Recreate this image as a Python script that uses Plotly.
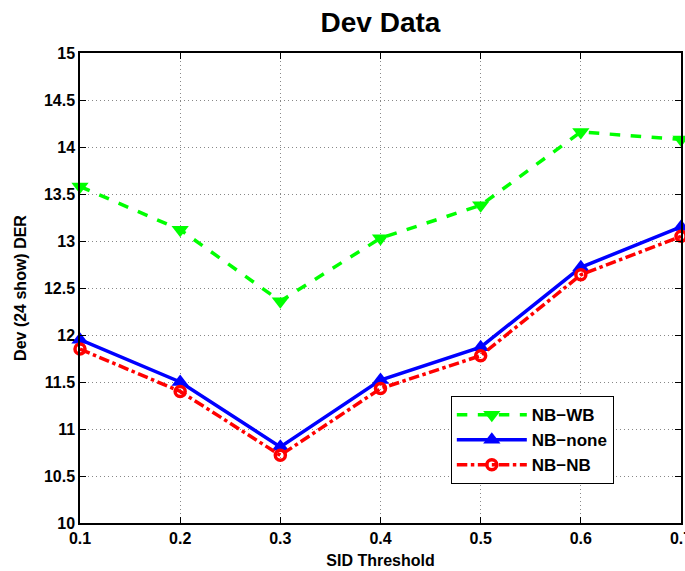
import plotly.graph_objects as go

x_vals = [0.1, 0.2, 0.3, 0.4, 0.5, 0.6, 0.7]
nb_wb = [13.58, 13.12, 12.36, 13.03, 13.38, 14.16, 14.08]
nb_none = [11.95, 11.50, 10.81, 11.52, 11.87, 12.72, 13.15]
nb_nb = [11.85, 11.40, 10.72, 11.43, 11.78, 12.64, 13.05]

x_ticks = [0.1, 0.2, 0.3, 0.4, 0.5, 0.6, 0.7]
y_ticks = [10, 10.5, 11, 11.5, 12, 12.5, 13, 13.5, 14, 14.5, 15]

fnt = "Liberation Sans, Arial, sans-serif"

fig = go.Figure()
fig.add_trace(go.Scatter(
    x=x_vals, y=nb_wb, name="NB\u2212WB", mode="lines+markers", cliponaxis=False,
    line=dict(color="#00ff00", width=3.5, dash="dash"),
    marker=dict(symbol="triangle-down", size=15, color="#00ff00")))
fig.add_trace(go.Scatter(
    x=x_vals, y=nb_none, name="NB\u2212none", mode="lines+markers", cliponaxis=False,
    line=dict(color="#0000ff", width=3.5),
    marker=dict(symbol="triangle-up", size=15, color="#0000ff")))
fig.add_trace(go.Scatter(
    x=x_vals, y=nb_nb, name="NB\u2212NB", mode="lines+markers", cliponaxis=False,
    line=dict(color="#ff0000", width=3.5, dash="dashdot"),
    marker=dict(symbol="circle-open", size=10, color="#ff0000", line=dict(width=3.5, color="#ff0000"))))

axis_common = dict(
    showline=True, linecolor="black", linewidth=1.5, mirror="ticks",
    ticks="inside", ticklen=6, tickcolor="black",
    showgrid=True, gridcolor="#888888", griddash="1px,3px", gridwidth=1,
    zeroline=False, automargin=False, ticklabeloverflow="allow",
    tickfont=dict(family=fnt, size=16, color="black", weight="bold"),
)

fig.update_xaxes(range=[0.1, 0.7], tickvals=x_ticks, ticktext=[f"{v:g}" for v in x_ticks],
                 title=dict(text="SID Threshold", font=dict(family=fnt, size=16, color="black", weight="bold"), standoff=9),
                 **axis_common)
fig.update_yaxes(range=[10, 15], tickvals=y_ticks, ticktext=[f"{v:g}" for v in y_ticks],
                 title=dict(text="Dev (24 show) DER", font=dict(family=fnt, size=16, color="black", weight="bold"), standoff=13),
                 **axis_common)

fig.update_layout(
    width=685, height=571,
    margin=dict(l=80, r=4, t=53, b=48, autoexpand=False),
    paper_bgcolor="white", plot_bgcolor="white",
    title=dict(text="Dev Data", x=(80 + 681) / 2 / 685, xanchor="center", y=1 - 22 / 571, yanchor="middle",
               font=dict(family=fnt, size=28, color="black", weight="bold")),
    showlegend=True,
    legend=dict(x=0.617, y=0.27, xanchor="left", yanchor="top",
                bordercolor="black", borderwidth=1, bgcolor="white",
                font=dict(family=fnt, size=17, color="black", weight="bold"),
                itemwidth=70, tracegroupgap=0),
)

fig.write_html("out.html", config={"displayModeBar": False},
               post_script="document.body.style.margin='0';document.body.style.overflow='hidden';")
